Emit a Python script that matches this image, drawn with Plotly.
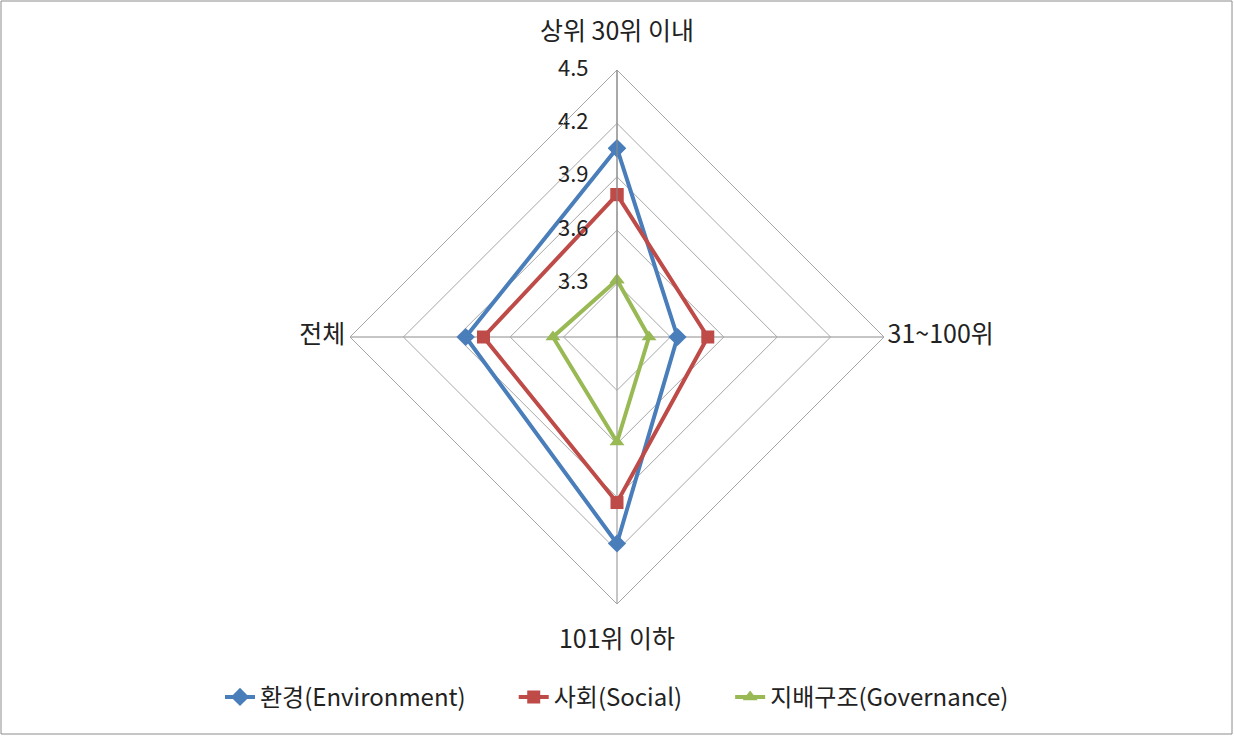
import plotly.graph_objects as go

categories = ["상위 30위 이내", "31~100위", "101위 이하", "전체"]
environment = [4.06, 3.34, 4.16, 3.85]
social = [3.80, 3.51, 3.93, 3.75]
governance = [3.32, 3.18, 3.59, 3.36]
radial_ticks = [3.0, 3.3, 3.6, 3.9, 4.2, 4.5]
r_max = radial_ticks[-1]

PAD = "\u00a0" * 8
series = [
    ("환경(Environment)" + PAD, environment, "#4A7EBB", "diamond", 14),
    ("사회(Social)" + PAD, social, "#BE4B48", "square", 13),
    ("지배구조(Governance)", governance, "#98B954", "triangle-up", 13),
]

W, H = 1234, 736
FONT = "Noto Sans CJK KR"
TXT = "#222222"

fig = go.Figure()
for name, vals, color, symbol, msize in series:
    fig.add_trace(go.Scatterpolar(
        r=vals + vals[:1],
        theta=categories + categories[:1],
        name=name,
        mode="lines+markers",
        line=dict(color=color, width=4),
        marker=dict(symbol=symbol, size=msize, color=color),
    ))

# radial value labels drawn horizontally beside the top spoke
fig.add_trace(go.Scatterpolar(
    r=radial_ticks,
    theta=[categories[0]] * len(radial_ticks),
    text=[f"{v:.1f}" for v in radial_ticks],
    mode="markers+text",
    textposition="middle left",
    marker=dict(size=44, opacity=0),
    textfont=dict(size=22, color=TXT, family=FONT),
    showlegend=False, hoverinfo="skip", cliponaxis=False,
))

# category names placed outside the outer ring
fig.add_trace(go.Scatterpolar(
    r=[r_max] * len(categories),
    theta=categories,
    text=categories,
    mode="markers+text",
    textposition=["top center", "middle right", "bottom center", "middle left"],
    marker=dict(size=[36, 4, 38, 6], opacity=0),
    textfont=dict(size=25, color=TXT, family=FONT),
    showlegend=False, hoverinfo="skip", cliponaxis=False,
))

cx, cy, rad = 617, 337, 267
fig.update_layout(
    width=W, height=H,
    margin=dict(l=0, r=0, t=0, b=0),
    paper_bgcolor="white",
    font=dict(family=FONT, size=16, color=TXT),
    polar=dict(
        domain=dict(x=[(cx - rad) / W, (cx + rad) / W],
                    y=[1 - (cy + rad) / H, 1 - (cy - rad) / H]),
        bgcolor="white",
        gridshape="linear",
        radialaxis=dict(
            range=[radial_ticks[0], r_max], tickvals=radial_ticks, showticklabels=False,
            angle=90, showline=True, linecolor="#8C8C8C", linewidth=1,
            gridcolor="#A6A6A6", gridwidth=1, ticks="",
        ),
        angularaxis=dict(
            direction="clockwise", rotation=90, showticklabels=False,
            showline=True, linecolor="#A6A6A6", linewidth=1,
            gridcolor="#8C8C8C", gridwidth=1, ticks="",
        ),
    ),
    legend=dict(orientation="h", x=0.5, xanchor="center", y=0.022, yanchor="bottom",
                font=dict(size=24, color=TXT)),
    shapes=[dict(type="rect", xref="paper", yref="paper",
                 x0=1 / W, x1=1 - 2 / W, y0=2 / H, y1=1 - 1 / H,
                 line=dict(color="#8C8C8C", width=1))],
)

fig.write_html("out.html")
